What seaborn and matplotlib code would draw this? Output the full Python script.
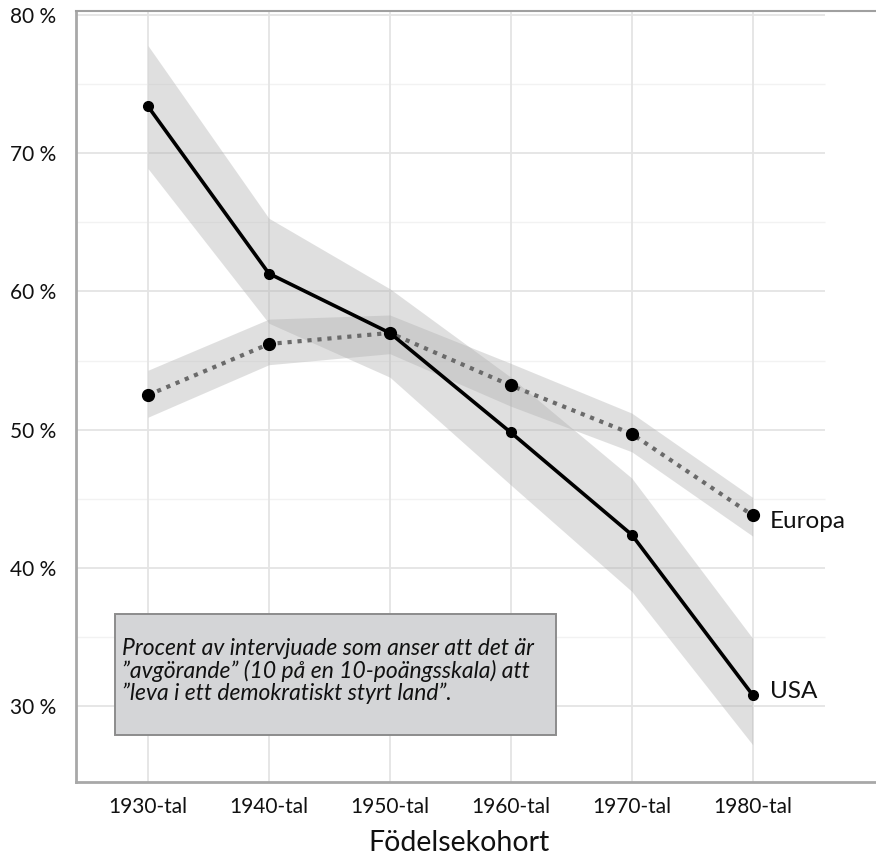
import numpy as np
import pandas as pd
import matplotlib
matplotlib.use("Agg")
import matplotlib.pyplot as plt
from matplotlib.patches import Rectangle
import seaborn as sns

# data (procent)
kohorter = ["1930-tal", "1940-tal", "1950-tal", "1960-tal", "1970-tal", "1980-tal"]
usa = [73.4, 61.3, 57.0, 49.8, 42.4, 30.8]
usa_low = [68.9, 57.7, 53.8, 46.0, 38.3, 27.2]
usa_high = [77.8, 65.3, 60.2, 53.8, 46.5, 34.9]
europa = [52.5, 56.2, 57.0, 53.2, 49.7, 43.8]
europa_low = [50.9, 54.7, 55.5, 51.7, 48.4, 42.3]
europa_high = [54.3, 58.0, 58.3, 54.8, 51.2, 45.1]
yticks = [30, 40, 50, 60, 70, 80]
yminor = [35, 45, 55, 65, 75]

sns.set_style("white")
plt.rcParams['font.family'] = ['Lato', 'DejaVu Sans']

pos = np.arange(len(kohorter))
df_usa = pd.DataFrame({"pos": pos, "value": usa})
df_eu = pd.DataFrame({"pos": pos, "value": europa})

fig = plt.figure(figsize=(8.76, 8.63), dpi=100)
ax = fig.add_axes([76 / 876, 1 - 782 / 863, 800 / 876, 771 / 863])

# grid
grid_c = "#e4e4e4"
ax.hlines(yticks, 0, (825 - 76) / 800, transform=ax.get_yaxis_transform(),
          color=grid_c, lw=1.3, zorder=0)
ax.hlines(yminor, 0, (825 - 76) / 800, transform=ax.get_yaxis_transform(),
          color="#f2f2f2", lw=1.0, zorder=0)
ax.vlines(pos, 0, 1, transform=ax.get_xaxis_transform(), color=grid_c, lw=1.3, zorder=0)

# confidence bands
band_c = (175 / 255, 175 / 255, 175 / 255)
ax.fill_between(pos, usa_low, usa_high, color=band_c, alpha=0.39, lw=0, zorder=1)
ax.fill_between(pos, europa_low, europa_high, color=band_c, alpha=0.39, lw=0, zorder=1)

sns.lineplot(data=df_eu, x="pos", y="value", ax=ax, color="#6a6a6a", lw=3.0,
             dashes=False, zorder=3)
ax.lines[-1].set_linestyle((0, (1, 1.4)))
ax.lines[-1].set_dash_capstyle("butt")
sns.lineplot(data=df_usa, x="pos", y="value", ax=ax, color="black", lw=2.6, zorder=4)
ax.plot(pos, europa, "o", color="black", ms=8.5, zorder=5)
ax.plot(pos, usa, "o", color="black", ms=7.0, zorder=5)

ax.annotate("Europa", (pos[-1], europa[-1]), xytext=(17, -6), textcoords="offset pixels",
            fontsize=17.5, va="center", ha="left", color="#111111")
ax.annotate("USA", (pos[-1], usa[-1]), xytext=(17, 3), textcoords="offset pixels",
            fontsize=17.5, va="center", ha="left", color="#111111")

# note box
ax.add_patch(Rectangle((39 / 800, 47 / 771), 441 / 800, 121 / 771, transform=ax.transAxes,
                       facecolor="#d4d5d7", edgecolor="#8c8c8c", lw=1.4, zorder=6))
ax.text(46 / 800, 144 / 771,
        "Procent av intervjuade som anser att det är\n"
        "”avgörande” (10 på en 10-poängsskala) att\n"
        "”leva i ett demokratiskt styrt land”.",
        transform=ax.transAxes, fontsize=16.5, style="italic", va="top", ha="left",
        linespacing=1.05, color="#111111", zorder=7)

ax.set_xlim(-0.595, 6.02)
ax.set_ylim(24.5, 80.3)
ax.set_xticks(pos)
ax.set_xticklabels(kohorter)
ax.set_yticks(yticks)
ax.set_yticklabels([f"{v} %" for v in yticks])
ax.tick_params(axis="both", labelsize=15, colors="#111111", length=5, width=1.3,
               direction="out")
ax.tick_params(axis="y", pad=9)
ax.tick_params(axis="x", pad=6)
ax.set_xlabel("Födelsekohort", fontsize=20.5, color="#111111")
ax.xaxis.set_label_coords((459 - 76) / 800, -0.062)
ax.set_ylabel("")

for s in ["left", "bottom"]:
    ax.spines[s].set_color("#a8a8a8")
    ax.spines[s].set_linewidth(2.0)
ax.spines["top"].set_color("#a0a0a0")
ax.spines["top"].set_linewidth(1.5)
ax.spines["right"].set_visible(False)

fig.savefig("out.png", dpi=100)
